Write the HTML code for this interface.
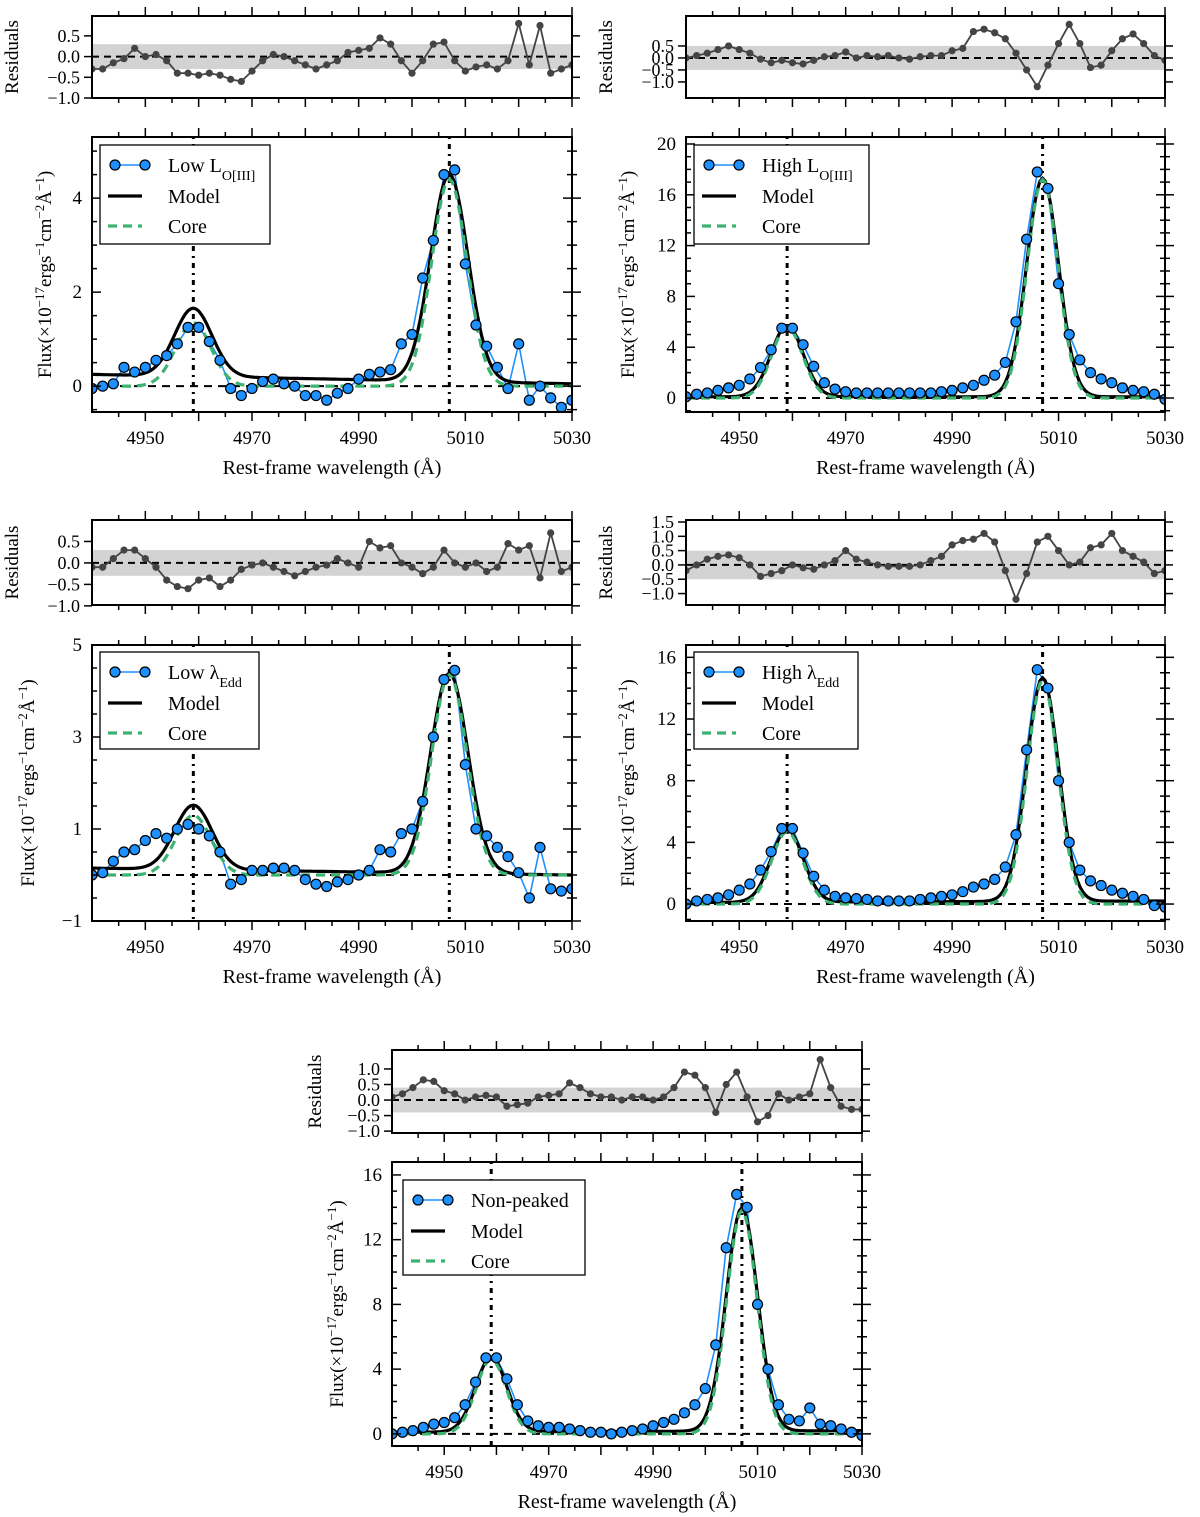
<!DOCTYPE html>
<html><head><meta charset="utf-8"><style>
body{margin:0;background:#fff}
svg{display:block;font-family:"Liberation Serif",serif}
</style></head><body>
<svg id="fig" width="1200" height="1517" viewBox="0 0 1200 1517" xmlns="http://www.w3.org/2000/svg"></svg>
<script>
// ---- data (wavelength grid: 4940 + 2*i Å) ----
const p1Flux=[-0.05,0.0,0.05,0.4,0.3,0.4,0.55,0.65,0.9,1.25,1.25,0.95,0.55,-0.05,-0.2,-0.05,0.1,0.15,0.05,0.0,-0.2,-0.2,-0.3,-0.15,-0.05,0.15,0.25,0.3,0.35,0.9,1.1,2.3,3.1,4.5,4.6,2.6,1.3,0.85,0.4,-0.05,0.9,-0.3,0.0,-0.25,-0.45,-0.3];
const p1Res=[-0.3,-0.3,-0.15,-0.05,0.2,0.0,0.05,-0.1,-0.4,-0.4,-0.45,-0.4,-0.45,-0.55,-0.6,-0.35,-0.1,0.05,0.0,-0.1,-0.2,-0.3,-0.2,-0.1,0.1,0.15,0.2,0.45,0.3,-0.1,-0.4,-0.1,0.3,0.35,-0.1,-0.35,-0.25,-0.2,-0.3,-0.1,0.8,-0.2,0.75,-0.4,-0.3,-0.2];
const p2Flux=[0.1,0.3,0.4,0.6,0.8,1.0,1.5,2.4,3.8,5.5,5.5,4.2,2.5,1.2,0.7,0.5,0.4,0.4,0.4,0.4,0.4,0.4,0.4,0.4,0.5,0.6,0.8,1.0,1.4,1.8,2.8,6.0,12.5,17.8,16.5,9.0,5.0,3.0,2.0,1.5,1.2,0.8,0.6,0.5,0.3,-0.1];
const p2Res=[0.0,0.1,0.2,0.35,0.5,0.35,0.2,-0.05,-0.2,-0.1,-0.2,-0.25,-0.1,0.05,0.1,0.25,0.0,0.1,0.05,0.1,0.0,-0.05,0.05,0.1,0.1,0.3,0.4,1.1,1.2,1.05,0.8,0.2,-0.5,-1.2,-0.3,0.6,1.4,0.6,-0.4,-0.3,0.3,0.8,1.0,0.6,0.1,-0.1];
const p3Flux=[0.0,0.05,0.3,0.5,0.55,0.75,0.9,0.8,1.0,1.1,1.0,0.85,0.5,-0.2,-0.1,0.1,0.1,0.15,0.15,0.1,-0.1,-0.2,-0.25,-0.15,-0.1,0.0,0.1,0.55,0.5,0.9,1.0,1.6,3.0,4.25,4.45,2.4,1.0,0.85,0.6,0.4,0.05,-0.5,0.6,-0.3,-0.35,-0.3];
const p3Res=[-0.1,-0.1,0.1,0.3,0.3,0.1,-0.1,-0.4,-0.55,-0.6,-0.4,-0.35,-0.55,-0.4,-0.15,-0.05,0.0,-0.1,-0.2,-0.3,-0.2,-0.1,-0.05,0.1,0.0,-0.1,0.5,0.35,0.4,0.0,-0.1,-0.25,-0.1,0.3,0.0,-0.1,0.0,-0.2,-0.1,0.45,0.3,0.4,-0.35,0.7,-0.2,-0.1];
const p4Flux=[0.0,0.2,0.3,0.4,0.6,0.9,1.3,2.2,3.4,4.9,4.9,3.3,1.8,0.9,0.5,0.4,0.35,0.3,0.2,0.2,0.2,0.2,0.3,0.4,0.5,0.6,0.8,1.1,1.3,1.6,2.4,4.5,10.0,15.2,14.0,8.0,4.0,2.2,1.5,1.2,0.9,0.7,0.5,0.3,-0.1,-0.2];
const p4Res=[-0.2,0.0,0.2,0.3,0.35,0.25,0.0,-0.4,-0.3,-0.2,0.0,-0.1,-0.15,0.0,0.15,0.5,0.2,0.1,0.0,-0.05,-0.05,-0.05,0.0,0.15,0.3,0.7,0.85,0.9,1.1,0.8,-0.2,-1.2,-0.3,0.8,1.0,0.5,0.0,0.1,0.6,0.7,1.1,0.5,0.3,0.1,-0.3,-0.2];
const p5Flux=[0.0,0.1,0.2,0.4,0.6,0.7,1.0,1.8,3.2,4.7,4.7,3.4,1.8,0.8,0.5,0.4,0.4,0.3,0.2,0.1,0.1,0.0,0.1,0.2,0.3,0.5,0.7,0.9,1.3,1.8,2.8,5.5,11.5,14.8,14.0,8.0,4.0,1.8,0.9,0.8,1.6,0.6,0.5,0.3,0.1,-0.1];
const p5Res=[0.1,0.2,0.4,0.65,0.6,0.3,0.2,0.0,0.1,0.15,0.1,-0.2,-0.15,-0.1,0.1,0.15,0.2,0.55,0.4,0.2,0.1,0.1,0.0,0.1,0.1,0.0,0.1,0.4,0.9,0.8,0.4,-0.4,0.5,0.9,0.1,-0.7,-0.5,0.2,0.0,0.1,0.2,1.3,0.4,-0.2,-0.3,-0.3];
// model params: [baseStart, baseEnd, amp4959, amp5007, sigma]
const p1Model=[0.25,0.05,1.45,4.4,3.5];
const p1Core=[0,0,1.35,4.4,3.3];
const p2Model=[0.1,0.1,5.6,17.2,3.0];
const p2Core=[0,0,5.6,17.2,2.9];
const p3Model=[0.15,0.0,1.4,4.35,3.5];
const p3Core=[0,0,1.3,4.35,3.3];
const p4Model=[0.1,0.2,4.7,14.5,3.0];
const p4Core=[0,0,4.7,14.5,2.9];
const p5Model=[0.1,0.2,4.6,13.8,3.0];
const p5Core=[0,0,4.6,13.8,2.9];
const xTicks=[4950,4970,4990,5010,5030];
const lineCenters=[4959,5007];

const NS="http://www.w3.org/2000/svg";
const fig=document.getElementById('fig');
function mk(tag,attrs,parent){const e=document.createElementNS(NS,tag);for(const k in attrs)e.setAttribute(k,attrs[k]);(parent||fig).appendChild(e);return e;}

const panels=[
 {id:'p1',x0:92,x1:572,ry0:16,ry1:98,rmin:-1.0,rmax:0.98,rticks:[0.5,0,-0.5,-1.0],band:0.3,
  my0:137,my1:412,ymin:-0.55,ymax:5.3,yticks:[0,2,4],ystep:0.5,flux:p1Flux,res:p1Res,model:p1Model,core:p1Core,
  leg:[100,145,170,99],label:['Low L','O[III]'],ylabX:45,rlabX:12},
 {id:'p2',x0:686,x1:1165,ry0:16,ry1:98,rmin:-1.67,rmax:1.75,rticks:[0.5,0,-0.5,-1.0],band:0.5,
  my0:137,my1:412,ymin:-1.1,ymax:20.55,yticks:[0,4,8,12,16,20],ystep:1,flux:p2Flux,res:p2Res,model:p2Model,core:p2Core,
  leg:[694,145,175,99],label:['High L','O[III]'],ylabX:628,rlabX:606},
 {id:'p3',x0:92,x1:572,ry0:520,ry1:605,rmin:-0.98,rmax:1.0,rticks:[0.5,0,-0.5,-1.0],band:0.3,
  my0:645,my1:921,ymin:-1,ymax:5,yticks:[-1,1,3,5],ystep:0.5,flux:p3Flux,res:p3Res,model:p3Model,core:p3Core,
  leg:[100,652,159,97],label:['Low λ','Edd'],ylabX:28,rlabX:12},
 {id:'p4',x0:686,x1:1165,ry0:520,ry1:605,rmin:-1.4,rmax:1.57,rticks:[1.5,1.0,0.5,0,-0.5,-1.0],band:0.5,
  my0:645,my1:921,ymin:-1.1,ymax:16.8,yticks:[0,4,8,12,16],ystep:1,flux:p4Flux,res:p4Res,model:p4Model,core:p4Core,
  leg:[694,652,164,97],label:['High λ','Edd'],ylabX:628,rlabX:606},
 {id:'p5',x0:392,x1:862,ry0:1050,ry1:1133,rmin:-1.06,rmax:1.61,rticks:[1.0,0.5,0,-0.5,-1.0],band:0.4,
  my0:1162,my1:1446,ymin:-0.75,ymax:16.8,yticks:[0,4,8,12,16],ystep:1,flux:p5Flux,res:p5Res,model:p5Model,core:p5Core,
  leg:[403,1180,182,95],label:['Non-peaked',''],ylabX:337,rlabX:315}
];

function modelVal(p,l){
  const base=p[0]+(p[1]-p[0])*(l-4940)/90;
  return base+p[2]*Math.exp(-0.5*Math.pow((l-lineCenters[0])/p[4],2))+p[3]*Math.exp(-0.5*Math.pow((l-lineCenters[1])/p[4],2));
}
function fmt(v){return (v<0?'−':'')+Math.abs(v).toFixed(1);}

panels.forEach(P=>{
  const g=mk('g',{});
  
  
  const X=l=>P.x0+(l-4940)/90*(P.x1-P.x0);
  const RY=v=>P.ry1-(v-P.rmin)/(P.rmax-P.rmin)*(P.ry1-P.ry0);
  const MY=v=>P.my1-(v-P.ymin)/(P.ymax-P.ymin)*(P.my1-P.my0);
  const clipR=mk('clipPath',{id:'cr'+P.id},g);mk('rect',{x:P.x0,y:P.ry0,width:P.x1-P.x0,height:P.ry1-P.ry0},clipR);
  const clipM=mk('clipPath',{id:'cm'+P.id},g);mk('rect',{x:P.x0,y:P.my0,width:P.x1-P.x0,height:P.my1-P.my0},clipM);

  // ---- residual axes ----
  const rg=mk('g',{'clip-path':'url(#cr'+P.id+')'},g);
  const band=mk('rect',{x:P.x0,y:RY(P.band),width:P.x1-P.x0,height:RY(-P.band)-RY(P.band),fill:'#d3d3d3'},rg);
  
  
  mk('line',{x1:P.x0,x2:P.x1,y1:RY(0),y2:RY(0),stroke:'#000','stroke-width':2,'stroke-dasharray':'7,5'},rg);
  let rp='';P.res.forEach((v,i)=>{rp+=(i?'L':'M')+X(4940+2*i).toFixed(1)+','+RY(v).toFixed(1);});
  const rl=mk('path',{d:rp,fill:'none',stroke:'#444','stroke-width':1.8},rg);
  
  
  P.res.forEach((v,i)=>{
    const c=mk('circle',{cx:X(4940+2*i),cy:RY(v),r:3.6,fill:'#444'},rg);
    
    
  });
  const rf=mk('rect',{x:P.x0,y:P.ry0,width:P.x1-P.x0,height:P.ry1-P.ry0,fill:'none',stroke:'#000','stroke-width':2},g);
  
  
  P.rticks.forEach(t=>{
    const y=RY(t);
    mk('line',{x1:P.x0-8,x2:P.x0,y1:y,y2:y,stroke:'#000','stroke-width':1.5},g);
    mk('line',{x1:P.x1,x2:P.x1+8,y1:y,y2:y,stroke:'#000','stroke-width':1.5},g);
    const tx=mk('text',{x:P.x0-12,y:y+6,'font-size':18,'text-anchor':'end'},g);tx.textContent=fmt(t);
    
    
  });
  const rlab=mk('text',{x:0,y:0,'font-size':19,'text-anchor':'middle',transform:`translate(${P.rlabX+6},${(P.ry0+P.ry1)/2}) rotate(-90)`},g);
  rlab.textContent='Residuals';
  
  

  // ---- x ticks (both axes) ----
  for(let l=4945;l<=5030;l+=5){
    const x=X(l),len=(l%10===0)?9:5;
    [[P.ry0,1],[P.ry1,-1],[P.my0,1],[P.my1,-1]].forEach(([y,d])=>{
      mk('line',{x1:x,x2:x,y1:y-d*len,y2:y,stroke:'#000','stroke-width':1.5},g);
    });
  }
  xTicks.forEach(t=>{
    const tx=mk('text',{x:X(t),y:P.my1+32,'font-size':19,'text-anchor':'middle'},g);tx.textContent=t;
    
    
  });
  const xl=mk('text',{x:(P.x0+P.x1)/2,y:P.my1+62,'font-size':20,'text-anchor':'middle'},g);
  xl.textContent='Rest-frame wavelength (Å)';
  
  

  // ---- main axes ----
  const mg=mk('g',{'clip-path':'url(#cm'+P.id+')'},g);
  mk('line',{x1:P.x0,x2:P.x1,y1:MY(0),y2:MY(0),stroke:'#000','stroke-width':2,'stroke-dasharray':'8,6'},mg);
  lineCenters.forEach(c=>{
    const v=mk('line',{x1:X(c),x2:X(c),y1:P.my0,y2:P.my1,stroke:'#000','stroke-width':3,'stroke-dasharray':'2,5,5,5'},mg);
    
    
  });
  let fp='';P.flux.forEach((v,i)=>{fp+=(i?'L':'M')+X(4940+2*i).toFixed(1)+','+MY(v).toFixed(1);});
  const fl=mk('path',{d:fp,fill:'none',stroke:'#1e90ff','stroke-width':1.6},mg);
  
  
  let cp='',mp='';
  for(let l=4940;l<=5030;l+=0.5){
    cp+=(cp?'L':'M')+X(l).toFixed(1)+','+MY(modelVal(P.core,l)).toFixed(1);
    mp+=(mp?'L':'M')+X(l).toFixed(1)+','+MY(modelVal(P.model,l)).toFixed(1);
  }
  const ml=mk('path',{d:mp,fill:'none',stroke:'#000','stroke-width':3.2},mg);
  
  
  const cl=mk('path',{d:cp,fill:'none',stroke:'#3cb371','stroke-width':3.2,'stroke-dasharray':'9,6'},mg);
  
  
  P.flux.forEach((v,i)=>{
    const c=mk('circle',{cx:X(4940+2*i),cy:MY(v),r:5,fill:'#1e90ff',stroke:'#000','stroke-width':1.2},mg);
    
    
  });
  const mf=mk('rect',{x:P.x0,y:P.my0,width:P.x1-P.x0,height:P.my1-P.my0,fill:'none',stroke:'#000','stroke-width':2},g);
  
  
  for(let v=Math.ceil(P.ymin/P.ystep)*P.ystep;v<=P.ymax+1e-9;v+=P.ystep){
    const y=MY(v),maj=P.yticks.some(t=>Math.abs(t-v)<1e-6),len=maj?9:5;
    mk('line',{x1:P.x0,x2:P.x0+len,y1:y,y2:y,stroke:'#000','stroke-width':1.5},g);
    mk('line',{x1:P.x1-len,x2:P.x1,y1:y,y2:y,stroke:'#000','stroke-width':1.5},g);
    mk('line',{x1:P.x1,x2:P.x1+len,y1:y,y2:y,stroke:'#000','stroke-width':1.5},g);
  }
  P.yticks.forEach(t=>{
    const tx=mk('text',{x:P.x0-10,y:MY(t)+6,'font-size':19,'text-anchor':'end'},g);tx.textContent=(t<0?'−':'')+Math.abs(t);
    
    
  });
  const yl=mk('text',{x:0,y:0,'font-size':19,'text-anchor':'middle',transform:`translate(${P.ylabX+6},${(P.my0+P.my1)/2}) rotate(-90)`},g);
  yl.innerHTML='Flux(×10<tspan baseline-shift="super" font-size="13">−17</tspan>ergs<tspan baseline-shift="super" font-size="13">−1</tspan>cm<tspan baseline-shift="super" font-size="13">−2</tspan>Å<tspan baseline-shift="super" font-size="13">−1</tspan>)';
  
  

  // ---- legend ----
  const [lx,ly,lw,lh]=P.leg;
  const lg=mk('g',{},g);
  
  
  mk('rect',{x:lx,y:ly,width:lw,height:lh,fill:'#fff',stroke:'#000','stroke-width':1.3},lg);
  const r1=ly+20,r2=ly+51,r3=ly+81;
  mk('line',{x1:lx+15,x2:lx+45,y1:r1,y2:r1,stroke:'#1e90ff','stroke-width':1.6},lg);
  mk('circle',{cx:lx+15,cy:r1,r:5,fill:'#1e90ff',stroke:'#000','stroke-width':1.2},lg);
  mk('circle',{cx:lx+45,cy:r1,r:5,fill:'#1e90ff',stroke:'#000','stroke-width':1.2},lg);
  mk('line',{x1:lx+8,x2:lx+42,y1:r2,y2:r2,stroke:'#000','stroke-width':3.2},lg);
  mk('line',{x1:lx+8,x2:lx+42,y1:r3,y2:r3,stroke:'#3cb371','stroke-width':3.2,'stroke-dasharray':'9,6'},lg);
  const t1=mk('text',{x:lx+68,y:r1+7,'font-size':20},lg);
  t1.innerHTML=P.label[0]+(P.label[1]?'<tspan baseline-shift="sub" font-size="14">'+P.label[1]+'</tspan>':'');
  
  
  const t2=mk('text',{x:lx+68,y:r2+7,'font-size':20},lg);t2.textContent='Model';
  
  
  const t3=mk('text',{x:lx+68,y:r3+7,'font-size':20},lg);t3.textContent='Core';
  
  
});
</script>
</body></html>
